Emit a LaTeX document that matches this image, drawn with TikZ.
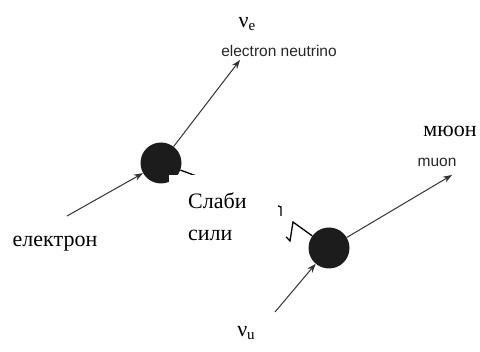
\documentclass[tikz,border=0pt]{standalone}
\usepackage{fontspec}
\setmainfont{Liberation Serif}
\newfontfamily\smallsans{Liberation Sans}
\usetikzlibrary{arrows.meta}
\definecolor{linegray}{HTML}{333333}
\definecolor{dotblack}{HTML}{1C1C1C}
\definecolor{labgray}{HTML}{262626}
\begin{document}
\begin{tikzpicture}[x=1pt,y=-1pt,
  particle/.style={circle,fill=dotblack,minimum size=41pt,inner sep=0pt},
  track/.style={draw=linegray,line width=1pt,-{Stealth[length=9pt,width=6.5pt]}},
  weak/.style={draw=black,line width=1.3pt},
  biglabel/.style={font=\fontsize{22}{32}\selectfont,inner sep=0pt},
  smalllabel/.style={font=\smallsans\fontsize{15.5}{18}\selectfont,text=labgray,inner sep=0pt}]
\useasboundingbox (0,0) rectangle (480,352);
\node[particle] (d1) at (161,163) {};
\node[particle] (d2) at (329,248) {};
\coordinate (e0) at (67,216);
\coordinate (nue) at (240,60);
\coordinate (mu) at (452,175);
\coordinate (num0) at (275,312);
\coordinate (z1) at (281,207);
\coordinate (z2) at (281,216);
\coordinate (z3) at (278,228);
\coordinate (z4) at (290,241);
\coordinate (z5) at (293,222);
\draw[track] (e0) -- (d1);
\draw[track] (d1) -- (nue);
\draw[track] (d2) -- (mu);
\draw[track] (num0) -- (d2);
\draw[weak,shorten <=12pt] (d1) -- (z1) -- (z2) (z3) -- (z4) -- (z5) -- (d2);
\node[biglabel,fill=white,anchor=north west,inner xsep=19pt,inner ysep=18pt,align=left,text width=71pt] (weaklbl) at (169,175) {Слаби\\сили};
\node[biglabel] (lnue) at (247,24) {ν\raisebox{-0.35ex}{\fontsize{15}{15}\selectfont e}};
\node[smalllabel] (lnuetxt) at (279,51) {electron neutrino};
\node[biglabel] (lmu) at (450,131) {мюон};
\node[smalllabel] (lmutxt) at (437,162) {muon};
\node[biglabel] (lel) at (55,244) {електрон};
\node[biglabel] (lnum) at (246,333) {ν\raisebox{-0.35ex}{\fontsize{15}{15}\selectfont u}};
\end{tikzpicture}
\end{document}
